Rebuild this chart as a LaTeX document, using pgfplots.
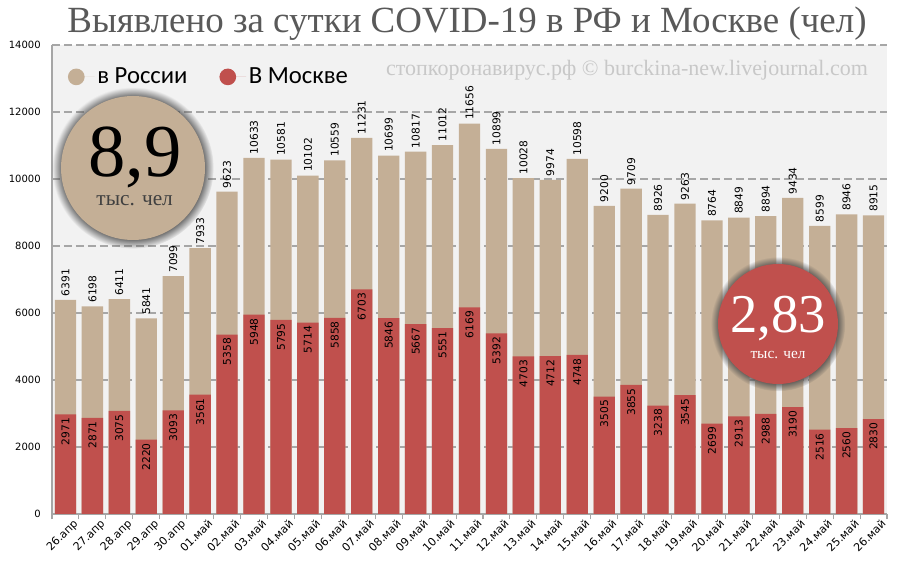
\documentclass[border=0pt]{standalone}
\usepackage{pgfplots}
\usepackage{pgfplotstable}
\pgfplotsset{compat=1.18}
\usepackage{fontspec}
\setmainfont{Liberation Serif}
\newfontfamily\calibri{Carlito}
\newfontfamily\dvs{DejaVu Sans}
\usetikzlibrary{shadows}
\definecolor{tanc}{HTML}{C4AF96}
\definecolor{redc}{HTML}{C0504D}
\definecolor{gridc}{HTML}{A6A6A6}
\definecolor{titlec}{HTML}{595959}
\definecolor{wmc}{HTML}{C8C8C8}
\pgfplotstableread{
x rf msk
0 6391 2971
1 6198 2871
2 6411 3075
3 5841 2220
4 7099 3093
5 7933 3561
6 9623 5358
7 10633 5948
8 10581 5795
9 10102 5714
10 10559 5858
11 11231 6703
12 10699 5846
13 10817 5667
14 11012 5551
15 11656 6169
16 10899 5392
17 10028 4703
18 9974 4712
19 10598 4748
20 9200 3505
21 9709 3855
22 8926 3238
23 9263 3545
24 8764 2699
25 8849 2913
26 8894 2988
27 9434 3190
28 8599 2516
29 8946 2560
30 8915 2830
}\data
\begin{document}
\begin{tikzpicture}[x=1pt,y=1pt]
\path[use as bounding box, fill=white] (0,0) rectangle (675,425.25);
\begin{axis}[
  at={(39pt,39.75pt)}, anchor=south west,
  scale only axis, width=626.25pt, height=351.75pt,
  xmin=-0.5, xmax=30.5, ymin=0, ymax=14000,
  ybar, bar width=16pt,
  axis background/.style={fill=black!5},
  axis lines*=left,
  axis line style={draw=gridc, line width=0.8pt},
  ymajorgrids,
  major grid style={draw=gridc, dash pattern=on 6pt off 3pt, line width=0.8pt},
  ytick={0,2000,...,14000},
  scaled y ticks=false,
  xtick={0,...,30},
  xticklabels={26.апр,27.апр,28.апр,29.апр,30.апр,01.май,02.май,03.май,04.май,05.май,06.май,07.май,08.май,09.май,10.май,11.май,12.май,13.май,14.май,15.май,16.май,17.май,18.май,19.май,20.май,21.май,22.май,23.май,24.май,25.май,26.май},
  minor xtick={-0.5,0.5,...,30.5},
  tick align=outside,
  major tick length=0pt, minor tick length=4pt,
  minor tick style={draw=gridc, line width=0.8pt},
  /pgf/number format/1000 sep={},
  /pgf/number format/assume math mode=true,
  yticklabel style={font=\dvs\fontsize{7.5}{9}\selectfont, xshift=-5pt},
  xticklabel style={font=\dvs\fontsize{8.3}{9}\selectfont, rotate=45, anchor=north east, inner sep=1pt, yshift=-5pt, xshift=2.5pt},
  nodes near coords,
  every node near coord/.append style={font=\dvs\fontsize{8}{9}\selectfont, rotate=90, black, inner sep=2.5pt},
  legend style={at={(axis description cs:0.014,0.932)}, anchor=west, draw=none, fill=none,
    font=\calibri\fontsize{18.5}{20}\selectfont,
    /tikz/every even column/.append style={column sep=22pt}},
  legend columns=2,
  legend cell align=left,
  clip=false,
]
\addplot[fill=tanc, draw=none, bar shift=0pt,
  every node near coord/.append style={anchor=west},
  legend image code/.code={\fill[tanc] (6.25pt,0pt) circle (6.25pt); \path (0pt,0pt) -- (20pt,0pt);}]
  table[x=x, y=rf] {\data};
\addlegendentry{в России}
\addplot[fill=redc, draw=none, bar shift=0pt,
  every node near coord/.append style={anchor=east},
  legend image code/.code={\fill[redc] (6.25pt,0pt) circle (6.25pt); \path (0pt,0pt) -- (20pt,0pt);}]
  table[x=x, y=msk] {\data};
\addlegendentry{В Москве}
\end{axis}
% title
\node[anchor=base, text=titlec, font=\fontsize{27.7}{30}\selectfont] at (350.25,400.5) {Выявлено за сутки COVID-19 в РФ и Москве (чел)};
% watermark
\node[anchor=base, text=wmc, font=\fontsize{16.5}{18}\selectfont] at (470.25,368.25) {стопкоронавирус.рф © burckina-new.livejournal.com};
% circles
\node[circle, fill=tanc, minimum size=108pt, inner sep=0pt,
  circular drop shadow={shadow xshift=0pt, shadow yshift=0pt, shadow scale=1.12, fill=black!70}] at (99.75,299.25) {};
\node[anchor=center, font=\fontsize{56}{60}\selectfont, text=black] at (101,307.5) {8,9};
\node[anchor=center, font=\fontsize{16}{18}\selectfont, text=black!75] at (101,275) {тыс. чел};
\node[circle, fill=redc, minimum size=90pt, inner sep=0pt,
  circular drop shadow={shadow xshift=0pt, shadow yshift=0pt, shadow scale=1.12, fill=black!70}] at (583.5,182.25) {};
\node[anchor=center, font=\fontsize{41}{44}\selectfont, text=white] at (583.5,186.4) {2,83};
\node[anchor=center, font=\fontsize{11.5}{13}\selectfont, text=white] at (583.5,159) {тыс. чел};
\end{tikzpicture}
\end{document}
